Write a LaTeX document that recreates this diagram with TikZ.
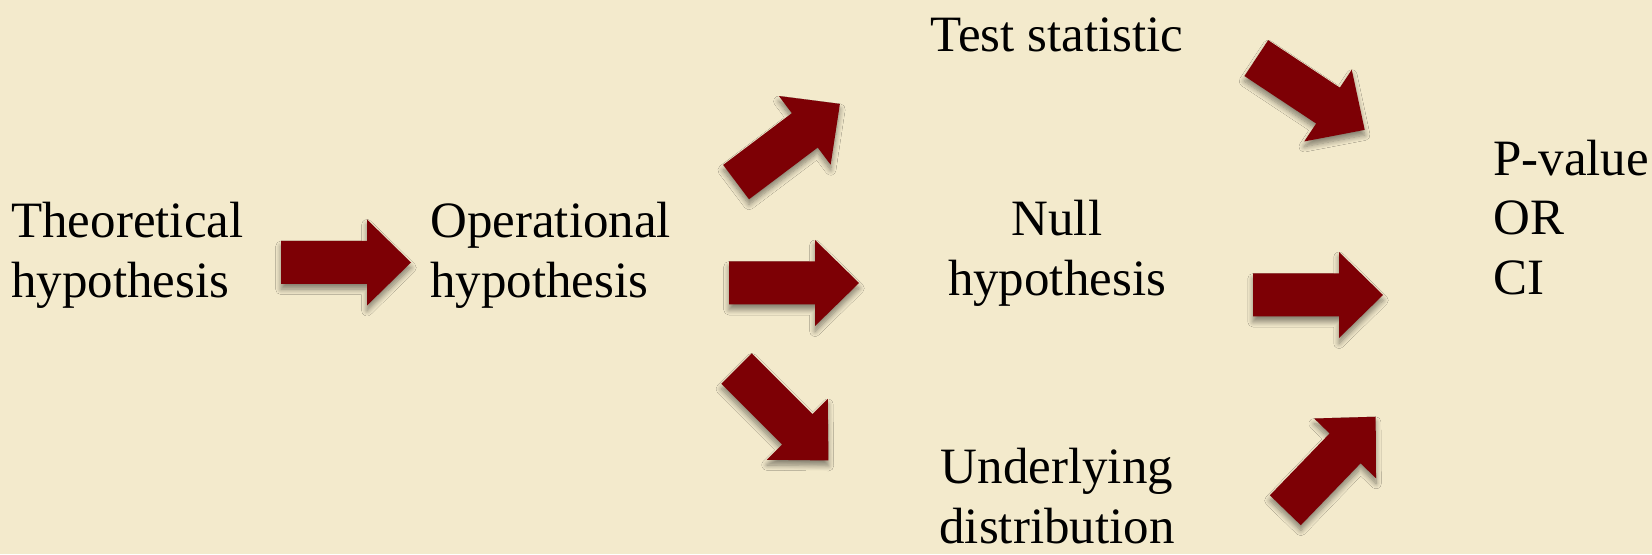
\documentclass[tikz,border=0pt]{standalone}
\usepackage{fontspec}
\setmainfont{Liberation Serif}
\usetikzlibrary{shadows.blur}
\definecolor{parchment}{HTML}{F3EACC}
\definecolor{arrowred}{HTML}{7D0005}

\begin{document}
\begin{tikzpicture}[
  txt/.style={font=\fontsize{29}{34}\selectfont,inner sep=0pt},
  blockarrow/.pic={\fill[arrowred,blur shadow={shadow xshift=0pt,shadow yshift=-3pt,shadow blur steps=8,shadow blur radius=3pt,shadow opacity=45}]
    (-1.3,-.43) -- (.42,-.43) -- (.42,-.86) -- (1.3,0) -- (.42,.86) -- (.42,.43) -- (-1.3,.43) -- cycle;}]
 \fill[parchment] (0,0) rectangle (33.04,11.08);
 \useasboundingbox (0,0) rectangle (33.04,11.08);
 \node[txt,anchor=west,align=left] (theo) at (0.22,5.98) {Theoretical\\hypothesis};
 \node[txt,anchor=west,align=left] (oper) at (8.6,5.98) {Operational\\hypothesis};
 \node[txt] (test) at (21.14,10.38) {Test statistic};
 \node[txt,align=center] (null) at (21.14,6.02) {Null\\hypothesis};
 \node[txt,align=center] (under) at (21.14,1.16) {Underlying\\distribution};
 \node[txt,anchor=west,align=left] (pval) at (29.86,6.73) {P-value\\OR\\CI};
 \pic at (6.92,5.83) {blockarrow};
 \pic[rotate=37] at (15.76,8.22) {blockarrow};
 \pic at (15.88,5.42) {blockarrow};
 \pic[rotate=-45] at (15.65,2.79) {blockarrow};
 \pic[rotate=-33.5] at (26.21,9.2) {blockarrow};
 \pic at (26.36,5.18) {blockarrow};
 \pic[rotate=46] at (26.61,1.81) {blockarrow};
\end{tikzpicture}
\end{document}
